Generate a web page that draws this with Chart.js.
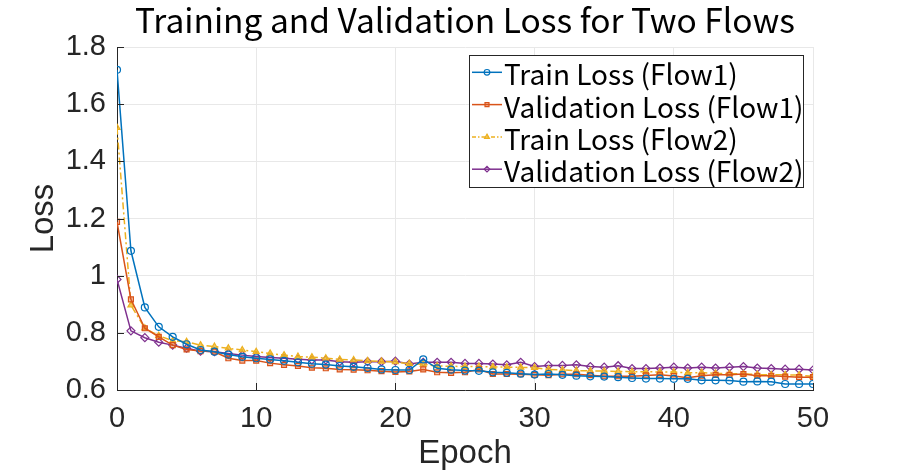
<!doctype html>
<html lang="en">
  <head>
    <meta charset="utf-8">
    <title>Training and Validation Loss for Two Flows</title>
    <style>
      html, body { margin: 0; padding: 0; background: #fff; }
      .container { width: 897px; height: 474px; }
    </style>
  </head>
  <body>
    <div class="container">
      <canvas id="lossChart" width="897" height="474"></canvas>
    </div>

    <script src="https://cdn.jsdelivr.net/npm/chart.js/dist/chart.umd.min.js"></script>
    <script>
      // data, epochs 0..50
      const epochs = Array.from({ length: 51 }, (_, i) => i);

      const trainFlow1 = [1.720, 1.087, 0.889, 0.821, 0.786, 0.760, 0.740, 0.734, 0.724, 0.716,
        0.711, 0.707, 0.702, 0.697, 0.692, 0.689, 0.684, 0.681, 0.677, 0.672,
        0.670, 0.670, 0.707, 0.676, 0.671, 0.668, 0.667, 0.662, 0.660, 0.657,
        0.654, 0.656, 0.653, 0.650, 0.648, 0.647, 0.645, 0.642, 0.640, 0.640,
        0.639, 0.639, 0.634, 0.634, 0.633, 0.629, 0.630, 0.629, 0.621, 0.621, 0.621];

      const valFlow1 = [1.188, 0.917, 0.816, 0.786, 0.757, 0.742, 0.736, 0.734, 0.711, 0.703,
        0.703, 0.694, 0.688, 0.684, 0.678, 0.676, 0.672, 0.671, 0.669, 0.666,
        0.663, 0.665, 0.672, 0.662, 0.660, 0.662, 0.672, 0.656, 0.656, 0.655,
        0.653, 0.652, 0.655, 0.655, 0.652, 0.648, 0.648, 0.648, 0.651, 0.653,
        0.649, 0.643, 0.650, 0.653, 0.653, 0.656, 0.650, 0.650, 0.647, 0.645, 0.645];

      const trainFlow2 = [1.518, 0.897, 0.816, 0.790, 0.772, 0.769, 0.757, 0.752, 0.746, 0.740,
        0.734, 0.728, 0.722, 0.717, 0.715, 0.711, 0.707, 0.705, 0.702, 0.700,
        0.698, 0.692, 0.690, 0.684, 0.683, 0.682, 0.682, 0.681, 0.680, 0.679,
        0.678, 0.672, 0.670, 0.668, 0.667, 0.666, 0.665, 0.664, 0.664, 0.663,
        0.663, 0.660, 0.661, 0.658, 0.657, 0.656, 0.654, 0.653, 0.653, 0.652, 0.648];

      const valFlow2 = [0.987, 0.807, 0.783, 0.767, 0.757, 0.746, 0.736, 0.734, 0.728, 0.722,
        0.717, 0.714, 0.711, 0.708, 0.705, 0.705, 0.699, 0.697, 0.699, 0.699,
        0.701, 0.691, 0.697, 0.697, 0.697, 0.693, 0.693, 0.691, 0.688, 0.697,
        0.682, 0.686, 0.686, 0.688, 0.682, 0.680, 0.685, 0.675, 0.675, 0.677,
        0.680, 0.677, 0.680, 0.677, 0.680, 0.682, 0.677, 0.675, 0.673, 0.673, 0.670];

      const seriesNames = ['Train Loss (Flow1)', 'Validation Loss (Flow1)', 'Train Loss (Flow2)', 'Validation Loss (Flow2)'];
      const chartTitle = 'Training and Validation Loss for Two Flows';
      const xTicks = [0, 10, 20, 30, 40, 50];
      const yTicks = [0.6, 0.8, 1.0, 1.2, 1.4, 1.6, 1.8];

      const JP = "'Noto Sans CJK JP', 'Noto Sans', sans-serif";
      const SANS = "'Liberation Sans', Arial, sans-serif";
      const AXIS = '#262626';

      function toPoints(ys) {
        return ys.map((y, i) => ({ x: epochs[i], y: y }));
      }

      const styles = [
        { color: '#0072BD', fill: 'rgba(0,0,0,0)', point: 'circle', dash: [] },
        { color: '#D95319', fill: 'rgba(217,83,25,0.35)', point: 'rect', dash: [] },
        { color: '#EDB120', fill: 'rgba(237,177,32,0.7)', point: 'triangle', dash: [7, 3, 2, 3] },
        { color: '#7E2F8E', fill: 'rgba(0,0,0,0)', point: 'rectRot', dash: [] }
      ];
      const allSeries = [trainFlow1, valFlow1, trainFlow2, valFlow2];

      const datasets = allSeries.map((ys, k) => ({
        label: seriesNames[k],
        data: toPoints(ys),
        borderColor: styles[k].color,
        backgroundColor: styles[k].fill,
        borderWidth: 1.5,
        borderDash: styles[k].dash,
        pointStyle: styles[k].point,
        pointRadius: k === 3 ? 4 : 3.5,
        pointBorderWidth: 1.2,
        pointBorderColor: styles[k].color,
        pointBackgroundColor: styles[k].fill,
        tension: 0
      }));

      // title, inward tick marks and the MATLAB-like legend box
      const decorations = {
        id: 'decorations',
        afterDraw(chart) {
          const ctx = chart.ctx;
          const area = chart.chartArea;
          ctx.save();

          ctx.fillStyle = '#000';
          ctx.font = '33.5px ' + JP;
          ctx.textAlign = 'center';
          ctx.textBaseline = 'alphabetic';
          ctx.fillText(chartTitle, (area.left + area.right) / 2, 33);

          ctx.strokeStyle = AXIS;
          ctx.lineWidth = 1;
          ctx.beginPath();
          xTicks.forEach(v => {
            const px = Math.round(chart.scales.x.getPixelForValue(v)) + 0.5;
            ctx.moveTo(px, area.bottom);
            ctx.lineTo(px, area.bottom - 7);
          });
          yTicks.forEach(v => {
            const py = Math.round(chart.scales.y.getPixelForValue(v)) + 0.5;
            ctx.moveTo(area.left, py);
            ctx.lineTo(area.left + 7, py);
          });
          ctx.stroke();

          const x0 = 469, y0 = 55, w = 334, h = 132, rowH = 32.3;
          ctx.fillStyle = '#fff';
          ctx.fillRect(x0, y0, w, h);
          ctx.strokeStyle = AXIS;
          ctx.strokeRect(x0 + 0.5, y0 + 0.5, w, h);
          ctx.font = '28px ' + JP;
          ctx.textAlign = 'left';
          seriesNames.forEach((name, k) => {
            const cy = y0 + 17.3 + k * rowH;
            const st = styles[k];
            ctx.strokeStyle = st.color;
            ctx.lineWidth = 1.5;
            ctx.setLineDash(st.dash.length ? [4, 2, 1.5, 2] : []);
            ctx.beginPath();
            ctx.moveTo(x0 + 3, cy);
            ctx.lineTo(x0 + 33, cy);
            ctx.stroke();
            ctx.setLineDash([]);
            ctx.fillStyle = st.fill;
            ctx.lineWidth = 1.2;
            Chart.helpers.drawPoint(ctx, {
              pointStyle: st.point, radius: 2.8, borderWidth: 1.2, rotation: 0
            }, x0 + 18, cy);
            ctx.fillStyle = '#000';
            ctx.fillText(name, x0 + 35, cy + 13);
          });
          ctx.restore();
        }
      };

      const config = {
        type: 'line',
        data: { datasets: datasets },
        options: {
          responsive: false,
          animation: false,
          devicePixelRatio: 1,
          layout: { padding: { left: 0, right: 84, top: 47, bottom: 0 } },
          scales: {
            x: {
              type: 'linear',
              min: 0,
              max: 50,
              afterFit: (scale) => { scale.height = 84; },
              afterBuildTicks: (scale) => { scale.ticks = xTicks.map(v => ({ value: v })); },
              ticks: {
                color: '#262626',
                font: { family: SANS, size: 29 },
                padding: 12,
                maxRotation: 0,
                callback: (v) => String(v)
              },
              grid: { color: '#e8e8e8', lineWidth: 1, drawTicks: false },
              border: { display: true, color: AXIS, width: 1 },
              title: {
                display: true,
                text: 'Epoch',
                color: '#262626',
                font: { family: SANS, size: 33 },
                padding: { top: 0, bottom: 0 }
              }
            },
            y: {
              type: 'linear',
              min: 0.6,
              max: 1.8,
              afterFit: (scale) => { scale.width = 117; },
              afterBuildTicks: (scale) => { scale.ticks = yTicks.map(v => ({ value: v })); },
              ticks: {
                color: '#262626',
                font: { family: SANS, size: 29 },
                padding: 11,
                callback: (v) => String(Number(v.toFixed(1)))
              },
              grid: { color: '#e8e8e8', lineWidth: 1, drawTicks: false },
              border: { display: true, color: AXIS, width: 1 },
              title: {
                display: true,
                text: 'Loss',
                color: '#262626',
                font: { family: SANS, size: 33 },
                padding: { top: 24, bottom: 0 }
              }
            }
          },
          plugins: {
            legend: { display: false },
            tooltip: { enabled: false },
            title: { display: false }
          }
        },
        plugins: [decorations]
      };

      const lossChart = new Chart(document.getElementById('lossChart'), config);
    </script>
  </body>
</html>
